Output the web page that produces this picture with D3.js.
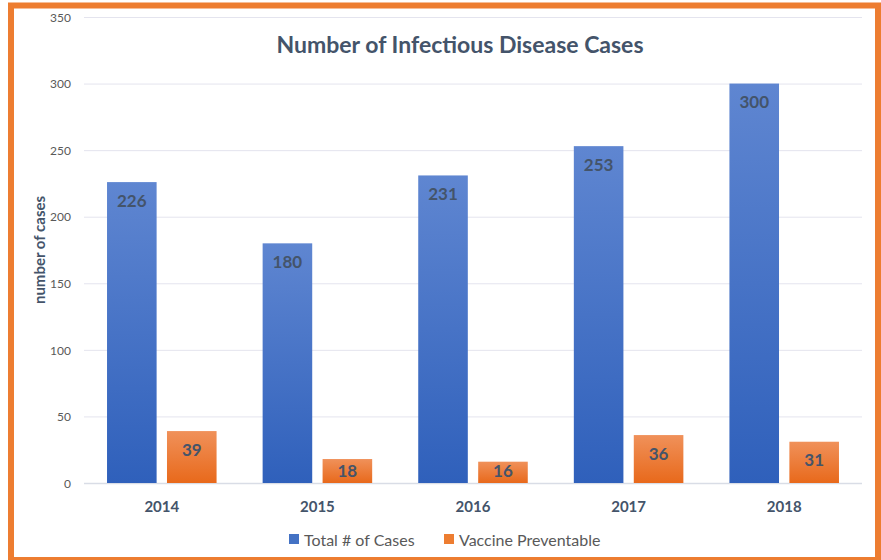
<!DOCTYPE html>
<html><head><meta charset="utf-8">
<script src="https://cdn.jsdelivr.net/npm/d3@7"></script>
<style>body{margin:0;background:#fff}svg{display:block}</style>
</head><body>
<svg id="c" width="881" height="560"></svg>
<script>
const years = ["2014","2015","2016","2017","2018"];
const seriesNames = ["Total # of Cases","Vaccine Preventable"];
const totalCases = [226,180,231,253,300];
const vaccinePreventable = [39,18,16,36,31];
const yTicks = [0,50,100,150,200,250,300,350];

(function(){
const svg = d3.select("#c");
const font = "Lato, 'Open Sans', sans-serif";
const pLeft = 84, pRight = 862, pTop = 17, pBottom = 483;

const defs = svg.append("defs");
const gb = defs.append("linearGradient").attr("id","gBlue").attr("x1",0).attr("y1",0).attr("x2",0).attr("y2",1);
gb.append("stop").attr("offset","0%").attr("stop-color","#5f86d1");
gb.append("stop").attr("offset","100%").attr("stop-color","#2f60bb");
const go = defs.append("linearGradient").attr("id","gOrange").attr("x1",0).attr("y1",0).attr("x2",0).attr("y2",1);
go.append("stop").attr("offset","0%").attr("stop-color","#f0915a");
go.append("stop").attr("offset","100%").attr("stop-color","#e8691b");
const fills = ["url(#gBlue)","url(#gOrange)"];
const legendFills = ["#4472c4","#ed7d31"];

const y = d3.scaleLinear().domain([0,350]).range([pBottom, pTop]);
const x0 = d3.scaleBand().domain(years).range([pLeft,pRight]).paddingInner(0.296).paddingOuter(0.148);
const x1 = d3.scaleBand().domain(seriesNames).range([0, x0.bandwidth()]).paddingInner(0.173);

// gridlines
svg.append("g").selectAll("line").data(yTicks).join("line")
  .attr("x1",pLeft).attr("x2",pRight)
  .attr("y1",d=>y(d)+0.5).attr("y2",d=>y(d)+0.5)
  .attr("stroke",d=>d===0?"#d9dde6":"#e4e4ee").attr("stroke-width",d=>d===0?1.5:1);

// y axis labels
const yAxis = d3.axisLeft(y).tickValues(yTicks).tickSize(0).tickPadding(0);
const ga = svg.append("g").attr("transform",`translate(${pLeft-13},0)`).call(yAxis);
ga.select(".domain").remove();
ga.selectAll("text").attr("font-family",font).attr("font-size",12).attr("fill","#595959").attr("dy","0.35em");

// x axis labels
const xAxis = d3.axisBottom(x0).tickSize(0).tickPadding(0);
const gx = svg.append("g").attr("transform",`translate(0,${pBottom+24})`).call(xAxis);
gx.select(".domain").remove();
gx.selectAll("text").attr("font-family",font).attr("font-size",15).attr("font-weight","bold").attr("fill","#44546a").attr("dy","0.35em");

// bars
const rows = years.map((yr,i)=>({year:yr, vals:[totalCases[i], vaccinePreventable[i]]}));
const groups = svg.append("g").selectAll("g").data(rows).join("g")
  .attr("transform",d=>`translate(${x0(d.year)},0)`);
groups.selectAll("rect").data(d=>d.vals.map((v,k)=>({k,v}))).join("rect")
  .attr("x",d=>x1(seriesNames[d.k])).attr("width",x1.bandwidth())
  .attr("y",d=>y(d.v)).attr("height",d=>y(0)-y(d.v))
  .attr("fill",d=>fills[d.k]);
groups.selectAll("text").data(d=>d.vals.map((v,k)=>({k,v}))).join("text")
  .attr("x",d=>x1(seriesNames[d.k])+x1.bandwidth()/2)
  .attr("y",d=>Math.min(y(d.v)+18.5, y(0)-12))
  .attr("dy","0.35em")
  .attr("text-anchor","middle")
  .attr("font-family",font).attr("font-size",17).attr("font-weight","bold")
  .attr("fill","#44546a")
  .text(d=>d.v);

// title
svg.append("text").attr("x",460).attr("y",45).attr("dy","0.35em").attr("text-anchor","middle")
  .attr("font-family",font).attr("font-size",23).attr("font-weight","bold").attr("fill","#44546a")
  .text("Number of Infectious Disease Cases");

// y title
svg.append("text").attr("transform","translate(40,250) rotate(-90)").attr("dy","0.35em").attr("text-anchor","middle")
  .attr("font-family",font).attr("font-size",15).attr("font-weight","bold").attr("fill","#44546a")
  .text("number of cases");

// legend
const leg = svg.append("g");
const legX = [289, 444];
seriesNames.forEach((s,i)=>{
  leg.append("rect").attr("x",legX[i]).attr("y",534).attr("width",10).attr("height",10).attr("fill",legendFills[i]);
  leg.append("text").attr("x",legX[i]+15).attr("y",540).attr("dy","0.35em")
    .attr("font-family",font).attr("font-size",16).attr("fill","#595959").text(s);
});

// border
svg.append("rect").attr("x",11).attr("y",5.5).attr("width",867).attr("height",554.5)
  .attr("fill","none").attr("stroke","#ed7d31").attr("stroke-width",6);
})();
</script>
</body></html>
